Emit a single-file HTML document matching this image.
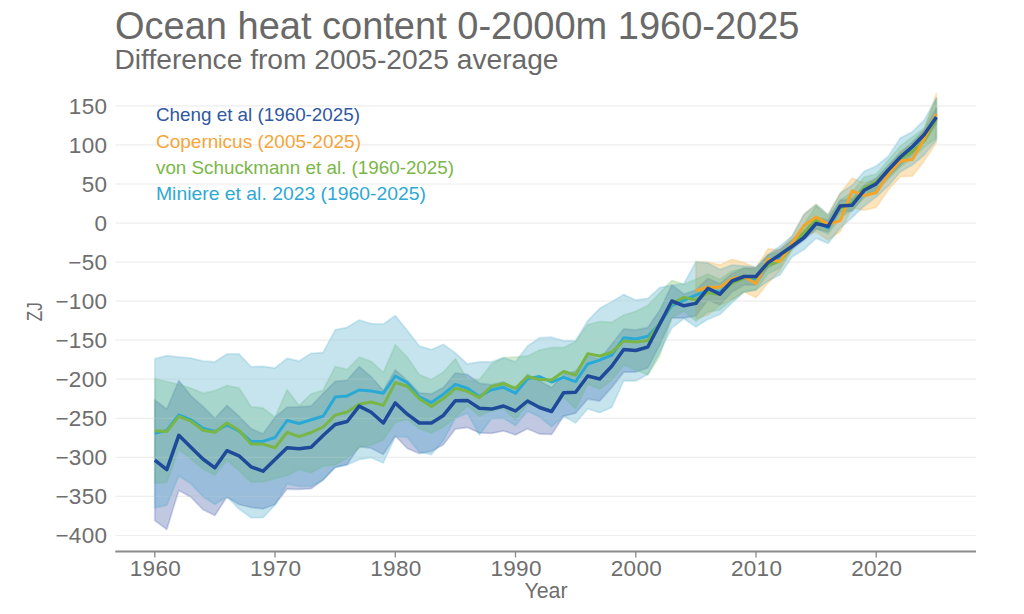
<!DOCTYPE html>
<html><head><meta charset="utf-8"><style>
html,body{margin:0;padding:0;background:#fff;width:1024px;height:614px;overflow:hidden}
svg{display:block;font-family:"Liberation Sans",sans-serif}
</style></head><body>
<svg width="1024" height="614" viewBox="0 0 1024 614">
<rect width="1024" height="614" fill="#fff"/>
<text x="115" y="39" font-size="38" fill="#696969">Ocean heat content 0-2000m 1960-2025</text>
<text x="114.5" y="68.7" font-size="28.2" fill="#696969" textLength="444" lengthAdjust="spacingAndGlyphs">Difference from 2005-2025 average</text>
<line x1="115.5" x2="976" y1="105.9" y2="105.9" stroke="#ebebeb" stroke-width="1.2"/><line x1="115.5" x2="976" y1="144.9" y2="144.9" stroke="#ebebeb" stroke-width="1.2"/><line x1="115.5" x2="976" y1="184.0" y2="184.0" stroke="#ebebeb" stroke-width="1.2"/><line x1="115.5" x2="976" y1="223.1" y2="223.1" stroke="#ebebeb" stroke-width="1.2"/><line x1="115.5" x2="976" y1="262.1" y2="262.1" stroke="#ebebeb" stroke-width="1.2"/><line x1="115.5" x2="976" y1="301.2" y2="301.2" stroke="#ebebeb" stroke-width="1.2"/><line x1="115.5" x2="976" y1="340.2" y2="340.2" stroke="#ebebeb" stroke-width="1.2"/><line x1="115.5" x2="976" y1="379.2" y2="379.2" stroke="#ebebeb" stroke-width="1.2"/><line x1="115.5" x2="976" y1="418.3" y2="418.3" stroke="#ebebeb" stroke-width="1.2"/><line x1="115.5" x2="976" y1="457.4" y2="457.4" stroke="#ebebeb" stroke-width="1.2"/><line x1="115.5" x2="976" y1="496.4" y2="496.4" stroke="#ebebeb" stroke-width="1.2"/><line x1="115.5" x2="976" y1="535.5" y2="535.5" stroke="#ebebeb" stroke-width="1.2"/>
<g font-size="22.5" fill="#6e6e6e" letter-spacing="0.3"><text x="107.3" y="113.8" text-anchor="end">150</text><text x="107.3" y="152.8" text-anchor="end">100</text><text x="107.3" y="191.9" text-anchor="end">50</text><text x="107.3" y="231.0" text-anchor="end">0</text><text x="107.3" y="270.0" text-anchor="end">−50</text><text x="107.3" y="309.1" text-anchor="end">−100</text><text x="107.3" y="348.1" text-anchor="end">−150</text><text x="107.3" y="387.1" text-anchor="end">−200</text><text x="107.3" y="426.2" text-anchor="end">−250</text><text x="107.3" y="465.2" text-anchor="end">−300</text><text x="107.3" y="504.3" text-anchor="end">−350</text><text x="107.3" y="543.4" text-anchor="end">−400</text></g>
<polygon points="154.8,400.0 166.8,409.0 178.8,380.6 190.9,395.8 202.9,406.4 214.9,418.5 226.9,405.3 239.0,416.2 251.0,428.6 263.0,433.7 275.0,417.2 287.1,407.2 299.1,406.8 311.1,406.0 323.1,393.5 335.2,381.5 347.2,380.0 359.2,366.5 371.2,376.7 383.3,390.6 395.3,369.8 407.3,380.4 419.3,392.8 431.4,393.8 443.4,387.6 455.4,372.9 467.4,374.4 479.4,383.2 491.5,384.7 503.5,382.0 515.5,389.0 527.5,374.4 539.6,381.0 551.6,387.6 563.6,374.4 575.6,371.0 587.7,356.0 599.7,359.0 611.7,344.3 623.7,328.8 635.8,330.0 647.8,327.5 659.8,310.3 671.8,285.0 683.9,294.0 695.9,290.0 707.9,278.3 719.9,283.7 732.0,273.5 744.0,268.0 756.0,268.0 768.0,255.0 780.0,249.0 792.1,240.0 804.1,231.0 816.1,217.0 828.1,220.0 840.2,200.0 852.2,199.0 864.2,185.0 876.2,178.0 888.3,165.0 900.3,153.0 912.3,142.0 924.3,130.0 936.4,108.0 936.4,124.0 924.3,142.0 912.3,154.0 900.3,165.0 888.3,177.0 876.2,190.0 864.2,196.0 852.2,211.0 840.2,212.0 828.1,232.0 816.1,229.0 804.1,240.0 792.1,249.0 780.0,261.0 768.0,268.0 756.0,285.0 744.0,285.0 732.0,292.0 719.9,305.0 707.9,300.0 695.9,316.0 683.9,318.0 671.8,318.0 659.8,345.0 647.8,368.0 635.8,372.0 623.7,372.2 611.7,387.6 599.7,401.0 587.7,399.1 575.6,413.2 563.6,416.2 551.6,434.4 539.6,434.0 527.5,428.8 515.5,434.9 503.5,430.9 491.5,433.4 479.4,432.9 467.4,427.5 455.4,429.0 443.4,444.8 431.4,451.3 419.3,453.6 407.3,448.5 395.3,436.0 383.3,454.5 371.2,448.3 359.2,446.5 347.2,464.5 335.2,467.4 323.1,479.9 311.1,488.7 299.1,489.4 287.1,489.0 275.0,504.5 263.0,508.9 251.0,507.4 239.0,504.5 226.9,497.1 214.9,515.5 202.9,509.6 190.9,497.1 178.8,490.5 166.8,529.4 154.8,520.6" fill="#2d489e" fill-opacity="0.3" stroke="#2d489e" stroke-opacity="0.2" stroke-width="1.8" stroke-linejoin="round"/><polygon points="695.9,261.7 707.9,262.2 719.9,264.7 732.0,259.3 744.0,262.5 756.0,268.0 768.0,248.8 780.0,250.0 792.1,236.0 804.1,214.2 816.1,204.4 828.1,215.0 840.2,193.2 852.2,178.0 864.2,183.0 876.2,179.0 888.3,167.0 900.3,151.0 912.3,144.0 924.3,129.0 936.4,93.2 936.4,142.5 924.3,161.1 912.3,176.2 900.3,176.7 888.3,190.0 876.2,207.4 864.2,210.3 852.2,208.0 840.2,231.8 828.1,240.0 816.1,232.0 804.1,237.0 792.1,250.0 780.0,271.0 768.0,283.0 756.0,297.7 744.0,291.8 732.0,300.0 719.9,305.0 707.9,315.0 695.9,319.0" fill="#f5a623" fill-opacity="0.3" stroke="#f5a623" stroke-opacity="0.2" stroke-width="1.8" stroke-linejoin="round"/><polygon points="154.8,378.4 166.8,381.5 178.8,384.4 190.9,388.1 202.9,393.2 214.9,390.7 226.9,385.6 239.0,387.8 251.0,406.6 263.0,408.0 275.0,417.3 287.1,389.7 299.1,405.6 311.1,393.9 323.1,390.0 335.2,366.5 347.2,369.4 359.2,357.2 371.2,361.3 383.3,372.3 395.3,344.9 407.3,356.9 419.3,374.5 431.4,379.6 443.4,372.1 455.4,358.6 467.4,379.5 479.4,379.5 491.5,364.0 503.5,357.7 515.5,357.0 527.5,356.0 539.6,350.1 551.6,347.5 563.6,347.5 575.6,341.5 587.7,324.5 599.7,321.5 611.7,322.3 623.7,315.0 635.8,311.3 647.8,305.4 659.8,293.0 671.8,280.3 683.9,284.2 695.9,279.3 707.9,274.0 719.9,279.3 732.0,271.0 744.0,268.0 756.0,270.0 768.0,255.0 780.0,252.0 792.1,240.0 804.1,224.0 816.1,206.0 828.1,217.0 840.2,200.0 852.2,192.0 864.2,177.0 876.2,174.0 888.3,160.0 900.3,146.0 912.3,137.0 924.3,128.0 936.4,98.3 936.4,138.0 924.3,147.0 912.3,158.0 900.3,167.0 888.3,179.0 876.2,191.0 864.2,198.0 852.2,210.0 840.2,218.0 828.1,234.0 816.1,229.0 804.1,238.0 792.1,249.0 780.0,268.0 768.0,274.0 756.0,290.0 744.0,292.0 732.0,300.0 719.9,310.0 707.9,312.0 695.9,321.3 683.9,311.0 671.8,317.9 659.8,356.0 647.8,375.0 635.8,370.0 623.7,365.0 611.7,380.0 599.7,389.3 587.7,383.9 575.6,408.8 563.6,397.1 551.6,412.0 539.6,407.0 527.5,404.0 515.5,419.7 503.5,408.5 491.5,410.9 479.4,415.8 467.4,406.0 455.4,417.3 443.4,427.0 431.4,433.0 419.3,428.8 407.3,419.3 395.3,422.4 383.3,439.9 371.2,445.0 359.2,448.0 347.2,458.0 335.2,464.9 323.1,466.0 311.1,472.8 299.1,469.3 287.1,475.7 275.0,478.6 263.0,482.0 251.0,482.0 239.0,470.5 226.9,460.2 214.9,475.0 202.9,469.0 190.9,458.7 178.8,449.6 166.8,482.5 154.8,483.3" fill="#73bc5e" fill-opacity="0.3" stroke="#73bc5e" stroke-opacity="0.2" stroke-width="1.8" stroke-linejoin="round"/><polygon points="154.8,358.7 166.8,355.6 178.8,357.0 190.9,358.1 202.9,360.9 214.9,361.8 226.9,353.9 239.0,353.8 251.0,366.7 263.0,366.3 275.0,368.0 287.1,358.3 299.1,361.0 311.1,353.3 323.1,352.5 335.2,329.8 347.2,327.3 359.2,320.0 371.2,323.6 383.3,323.9 395.3,315.6 407.3,330.6 419.3,345.9 431.4,349.6 443.4,344.3 455.4,353.0 467.4,364.0 479.4,361.8 491.5,361.8 503.5,357.7 515.5,361.8 527.5,346.0 539.6,337.7 551.6,337.2 563.6,340.8 575.6,340.8 587.7,320.8 599.7,308.3 611.7,301.7 623.7,294.6 635.8,300.0 647.8,298.3 659.8,287.6 671.8,285.2 683.9,283.7 695.9,261.7 707.9,263.0 719.9,269.5 732.0,265.0 744.0,266.0 756.0,266.9 768.0,254.7 780.0,245.9 792.1,236.0 804.1,214.2 816.1,204.4 828.1,214.7 840.2,193.2 852.2,185.0 864.2,171.3 876.2,166.0 888.3,156.2 900.3,138.1 912.3,131.7 924.3,120.0 936.4,98.0 936.4,140.0 924.3,155.0 912.3,165.0 900.3,172.0 888.3,186.0 876.2,197.0 864.2,206.0 852.2,217.5 840.2,228.0 828.1,243.4 816.1,238.3 804.1,249.5 792.1,257.0 780.0,275.0 768.0,281.0 756.0,290.0 744.0,292.0 732.0,303.0 719.9,314.5 707.9,319.3 695.9,327.1 683.9,318.8 671.8,328.1 659.8,352.0 647.8,374.4 635.8,381.0 623.7,381.0 611.7,407.4 599.7,412.7 587.7,408.8 575.6,423.0 563.6,416.2 551.6,426.7 539.6,417.0 527.5,411.3 515.5,425.6 503.5,418.2 491.5,418.7 479.4,434.9 467.4,413.3 455.4,418.2 443.4,440.4 431.4,454.6 419.3,452.0 407.3,437.1 395.3,436.6 383.3,463.0 371.2,457.7 359.2,459.5 347.2,465.0 335.2,467.4 323.1,479.9 311.1,486.5 299.1,486.3 287.1,483.9 275.0,505.2 263.0,517.7 251.0,517.7 239.0,508.9 226.9,496.8 214.9,504.4 202.9,496.4 190.9,483.8 178.8,476.0 166.8,505.3 154.8,507.8" fill="#3ea5c6" fill-opacity="0.3" stroke="#3ea5c6" stroke-opacity="0.2" stroke-width="1.8" stroke-linejoin="round"/>
<line x1="115.5" x2="976" y1="105.9" y2="105.9" stroke="#fff" stroke-opacity="0.18" stroke-width="1.2"/><line x1="115.5" x2="976" y1="144.9" y2="144.9" stroke="#fff" stroke-opacity="0.18" stroke-width="1.2"/><line x1="115.5" x2="976" y1="184.0" y2="184.0" stroke="#fff" stroke-opacity="0.18" stroke-width="1.2"/><line x1="115.5" x2="976" y1="223.1" y2="223.1" stroke="#fff" stroke-opacity="0.18" stroke-width="1.2"/><line x1="115.5" x2="976" y1="262.1" y2="262.1" stroke="#fff" stroke-opacity="0.18" stroke-width="1.2"/><line x1="115.5" x2="976" y1="301.2" y2="301.2" stroke="#fff" stroke-opacity="0.18" stroke-width="1.2"/><line x1="115.5" x2="976" y1="340.2" y2="340.2" stroke="#fff" stroke-opacity="0.18" stroke-width="1.2"/><line x1="115.5" x2="976" y1="379.2" y2="379.2" stroke="#fff" stroke-opacity="0.18" stroke-width="1.2"/><line x1="115.5" x2="976" y1="418.3" y2="418.3" stroke="#fff" stroke-opacity="0.18" stroke-width="1.2"/><line x1="115.5" x2="976" y1="457.4" y2="457.4" stroke="#fff" stroke-opacity="0.18" stroke-width="1.2"/><line x1="115.5" x2="976" y1="496.4" y2="496.4" stroke="#fff" stroke-opacity="0.18" stroke-width="1.2"/><line x1="115.5" x2="976" y1="535.5" y2="535.5" stroke="#fff" stroke-opacity="0.18" stroke-width="1.2"/>
<polyline points="154.8,433.3 166.8,430.5 178.8,415.0 190.9,419.8 202.9,428.3 214.9,431.5 226.9,425.0 239.0,431.0 251.0,441.4 263.0,441.4 275.0,437.5 287.1,420.5 299.1,423.5 311.1,419.7 323.1,416.2 335.2,397.1 347.2,395.9 359.2,390.0 371.2,391.0 383.3,393.2 395.3,376.0 407.3,382.6 419.3,396.9 431.4,402.6 443.4,394.2 455.4,384.4 467.4,388.3 479.4,396.4 491.5,389.8 503.5,387.3 515.5,393.2 527.5,378.8 539.6,376.6 551.6,382.0 563.6,377.3 575.6,381.7 587.7,364.0 599.7,360.1 611.7,355.2 623.7,337.8 635.8,339.0 647.8,336.2 659.8,323.7 671.8,305.6 683.9,300.3 695.9,295.2 707.9,290.6 719.9,292.0 732.0,281.0 744.0,277.0 756.0,279.0 768.0,264.0 780.0,257.0 792.1,247.0 804.1,236.0 816.1,222.0 828.1,228.0 840.2,207.0 852.2,204.0 864.2,190.0 876.2,183.0 888.3,170.0 900.3,157.0 912.3,147.0 924.3,136.0 936.4,118.0" fill="none" stroke="#2aa9d6" stroke-width="3" stroke-linejoin="round"/><polyline points="154.8,430.8 166.8,431.5 178.8,416.4 190.9,421.2 202.9,430.3 214.9,432.2 226.9,423.0 239.0,430.3 251.0,444.1 263.0,444.1 275.0,447.7 287.1,432.3 299.1,436.6 311.1,432.5 323.1,427.0 335.2,415.1 347.2,412.0 359.2,404.2 371.2,402.0 383.3,405.4 395.3,382.6 407.3,386.2 419.3,398.8 431.4,406.4 443.4,398.6 455.4,388.3 467.4,391.3 479.4,397.6 491.5,386.4 503.5,383.5 515.5,388.3 527.5,376.6 539.6,379.5 551.6,380.0 563.6,371.5 575.6,375.1 587.7,353.8 599.7,356.0 611.7,352.3 623.7,341.0 635.8,342.0 647.8,340.5 659.8,323.0 671.8,303.7 683.9,297.4 695.9,299.9 707.9,292.5 719.9,294.5 732.0,283.2 744.0,278.0 756.0,277.0 768.0,265.0 780.0,261.0 792.1,246.0 804.1,232.4 816.1,220.0 828.1,226.0 840.2,208.0 852.2,203.0 864.2,187.8 876.2,182.0 888.3,170.0 900.3,159.0 912.3,151.5 924.3,140.5 936.4,119.0" fill="none" stroke="#79b646" stroke-width="3" stroke-linejoin="round"/><polyline points="695.9,290.8 707.9,287.2 719.9,287.2 732.0,278.8 744.0,276.7 756.0,283.5 768.0,259.0 780.0,261.5 792.1,243.2 804.1,225.5 816.1,217.0 828.1,224.5 840.2,220.6 852.2,190.8 864.2,195.6 876.2,192.7 888.3,174.7 900.3,161.0 912.3,159.5 924.3,139.0 936.4,114.0" fill="none" stroke="#f5a42a" stroke-width="3" stroke-linejoin="round"/><polyline points="154.8,460.2 166.8,469.7 178.8,435.3 190.9,447.3 202.9,459.0 214.9,467.8 226.9,450.7 239.0,455.8 251.0,466.8 263.0,471.2 275.0,459.5 287.1,447.7 299.1,448.7 311.1,447.2 323.1,435.5 335.2,424.5 347.2,421.5 359.2,406.1 371.2,412.3 383.3,423.0 395.3,402.9 407.3,414.2 419.3,423.0 431.4,423.0 443.4,415.4 455.4,400.7 467.4,400.4 479.4,408.2 491.5,409.1 503.5,406.0 515.5,411.0 527.5,401.0 539.6,407.5 551.6,411.5 563.6,392.7 575.6,392.3 587.7,376.0 599.7,379.0 611.7,366.2 623.7,349.5 635.8,350.5 647.8,347.0 659.8,324.0 671.8,301.0 683.9,305.8 695.9,303.4 707.9,288.3 719.9,294.2 732.0,281.0 744.0,276.5 756.0,276.5 768.0,262.6 780.0,254.7 792.1,246.2 804.1,237.5 816.1,223.5 828.1,226.4 840.2,205.9 852.2,205.2 864.2,190.3 876.2,183.9 888.3,170.0 900.3,157.3 912.3,146.8 924.3,134.5 936.4,117.0" fill="none" stroke="#1f4a9a" stroke-width="3.5" stroke-linejoin="round"/>
<line x1="115.3" x2="976" y1="551.5" y2="551.5" stroke="#8a8a8a" stroke-width="2"/>
<line x1="154.8" x2="154.8" y1="551" y2="557.5" stroke="#8a8a8a" stroke-width="1.3"/><line x1="275.0" x2="275.0" y1="551" y2="557.5" stroke="#8a8a8a" stroke-width="1.3"/><line x1="395.3" x2="395.3" y1="551" y2="557.5" stroke="#8a8a8a" stroke-width="1.3"/><line x1="515.5" x2="515.5" y1="551" y2="557.5" stroke="#8a8a8a" stroke-width="1.3"/><line x1="635.8" x2="635.8" y1="551" y2="557.5" stroke="#8a8a8a" stroke-width="1.3"/><line x1="756.0" x2="756.0" y1="551" y2="557.5" stroke="#8a8a8a" stroke-width="1.3"/><line x1="876.2" x2="876.2" y1="551" y2="557.5" stroke="#8a8a8a" stroke-width="1.3"/>
<g font-size="22.5" fill="#6e6e6e" letter-spacing="0.3"><text x="155.4" y="576.3" text-anchor="middle">1960</text><text x="275.6" y="576.3" text-anchor="middle">1970</text><text x="395.9" y="576.3" text-anchor="middle">1980</text><text x="516.1" y="576.3" text-anchor="middle">1990</text><text x="636.4" y="576.3" text-anchor="middle">2000</text><text x="756.6" y="576.3" text-anchor="middle">2010</text><text x="876.8" y="576.3" text-anchor="middle">2020</text></g>
<text x="546" y="598" font-size="21.3" fill="#6e6e6e" text-anchor="middle">Year</text>
<text transform="translate(41.8,311.7) rotate(-90)" font-size="22" fill="#6e6e6e" text-anchor="middle" textLength="19" lengthAdjust="spacingAndGlyphs">ZJ</text>
<g font-size="18.5">
<text x="156" y="121" fill="#2f58a0" textLength="204" lengthAdjust="spacingAndGlyphs">Cheng et al (1960-2025)</text>
<text x="156" y="147.5" fill="#f5a53a" textLength="205" lengthAdjust="spacingAndGlyphs">Copernicus (2005-2025)</text>
<text x="156" y="174" fill="#7ab648" textLength="298" lengthAdjust="spacingAndGlyphs">von Schuckmann et al. (1960-2025)</text>
<text x="156" y="200" fill="#2ea9d3" textLength="270" lengthAdjust="spacingAndGlyphs">Miniere et al. 2023 (1960-2025)</text>
</g>
</svg>
</body></html>
